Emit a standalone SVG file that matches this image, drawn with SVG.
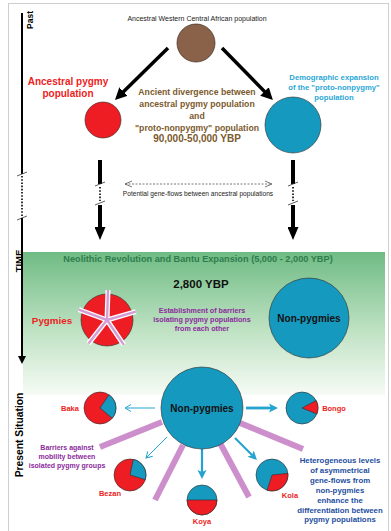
<svg xmlns="http://www.w3.org/2000/svg" width="391" height="531" viewBox="0 0 391 531">
<style>
text{font-family:"Liberation Sans",Arial,sans-serif;}
.b{font-weight:bold;}
.c{text-anchor:middle;}
.red{fill:#ee1d23;}
.blu{fill:#1699be;}
.pie{stroke:#2b2b2b;stroke-width:0.6;}
.thick{stroke:#000;stroke-width:4;fill:none;}
.dot{stroke:#000;stroke-width:1.6;stroke-dasharray:1.6,1.6;fill:none;}
.slash{stroke:#333;stroke-width:0.8;}
.bar{stroke:#cc8fcc;stroke-width:6;}
.cyan{stroke:#27a3cf;fill:none;}
</style>
<defs>
<linearGradient id="g" x1="0" y1="0" x2="0" y2="1">
<stop offset="0" stop-color="#6fbb84"/>
<stop offset="0.55" stop-color="#bfe2c3"/>
<stop offset="1" stop-color="#f6fbf5"/>
</linearGradient>
<marker id="ahD" markerUnits="userSpaceOnUse" markerWidth="12" markerHeight="12" refX="3" refY="6" orient="auto"><path d="M0,0 L12,6 L0,12 z" fill="#000"/></marker>
<marker id="ahV" markerUnits="userSpaceOnUse" markerWidth="13" markerHeight="11" refX="3" refY="5.5" orient="auto"><path d="M0,0 L13,5.5 L0,11 z" fill="#000"/></marker>
<marker id="ahT" markerUnits="userSpaceOnUse" markerWidth="8" markerHeight="8" refX="2" refY="4" orient="auto"><path d="M0,0 L8,4 L0,8 z" fill="#000"/></marker>
<marker id="ahC" markerUnits="userSpaceOnUse" markerWidth="10" markerHeight="10" refX="2" refY="5" orient="auto"><path d="M0,0.5 L9,5 L0,9.5 L2,5 z" fill="#27a3cf"/></marker>
<marker id="ahO" markerUnits="userSpaceOnUse" markerWidth="8" markerHeight="8" refX="7" refY="4" orient="auto"><path d="M1,0.5 L7,4 L1,7.5" fill="none" stroke="#27a3cf" stroke-width="1"/></marker>
<marker id="ahG" markerUnits="userSpaceOnUse" markerWidth="8" markerHeight="8" refX="7" refY="4" orient="auto-start-reverse"><path d="M0,1 L7,4 L0,7" fill="none" stroke="#555" stroke-width="0.8"/></marker>
</defs>

<rect x="8.5" y="3.5" width="380" height="530" fill="#fff" stroke="#cfcfcf" stroke-width="1"/>
<rect x="23" y="252" width="362" height="143" fill="url(#g)"/>

<g id="timeline">
<line x1="22" y1="13" x2="22" y2="174" stroke="#000" stroke-width="2"/>
<line x1="17" y1="176" x2="27" y2="172" class="slash"/>
<line x1="22" y1="176" x2="22" y2="217" class="dot" stroke-width="1.2"/>
<line x1="17" y1="220" x2="27" y2="216" class="slash"/>
<line x1="22" y1="218" x2="22" y2="358" stroke="#000" stroke-width="2" marker-end="url(#ahT)"/>
<text class="b c" font-size="8.5" transform="translate(32.5,20) rotate(-90)">Past</text>
<text class="b c" font-size="9.5" transform="translate(21.5,261) rotate(-90)">TIME</text>
<text class="b c" font-size="10.3" transform="translate(22.5,435) rotate(-90)">Present Situation</text>
</g>

<g id="connectors">
<line x1="168" y1="48" x2="121.4" y2="93.7" stroke="#000" stroke-width="3.5" marker-end="url(#ahD)"/>
<line x1="222" y1="48" x2="266.6" y2="93.6" stroke="#000" stroke-width="3.5" marker-end="url(#ahD)"/>
<line x1="100" y1="160" x2="100" y2="184" class="thick"/>
<line x1="95" y1="186" x2="105" y2="182" class="slash"/>
<line x1="100" y1="187" x2="100" y2="201" class="dot"/>
<line x1="95" y1="205" x2="105" y2="201" class="slash"/>
<line x1="100" y1="205" x2="100" y2="230" class="thick" marker-end="url(#ahV)"/>
<line x1="293" y1="160" x2="293" y2="184" class="thick"/>
<line x1="288" y1="186" x2="298" y2="182" class="slash"/>
<line x1="293" y1="187" x2="293" y2="201" class="dot"/>
<line x1="288" y1="205" x2="298" y2="201" class="slash"/>
<line x1="293" y1="205" x2="293" y2="230" class="thick" marker-end="url(#ahV)"/>
<line x1="125" y1="184" x2="272" y2="184" stroke="#555" stroke-width="0.8" stroke-dasharray="2,1.5" marker-start="url(#ahG)" marker-end="url(#ahG)"/>
<line x1="155" y1="408" x2="125" y2="408" class="cyan" stroke-width="1" marker-end="url(#ahO)"/>
<line x1="167" y1="437" x2="146" y2="458" class="cyan" stroke-width="1" marker-end="url(#ahO)"/>
<line x1="246" y1="408" x2="271" y2="408" class="cyan" stroke-width="2.8" marker-end="url(#ahC)"/>
<line x1="202" y1="449" x2="202" y2="472" class="cyan" stroke-width="2.2" marker-end="url(#ahC)"/>
<line x1="235" y1="438" x2="252" y2="455" class="cyan" stroke-width="2.2" marker-end="url(#ahC)"/>
</g>

<g id="barriers">
<line x1="100" y1="447" x2="162" y2="422" class="bar"/>
<line x1="183" y1="445" x2="155" y2="500" class="bar"/>
<line x1="220" y1="443" x2="249" y2="497" class="bar"/>
<line x1="240" y1="423" x2="303" y2="449" class="bar"/>
</g>

<g id="ancestral">
<circle cx="196" cy="43" r="19" fill="#8a6249" stroke="#3a2a20" stroke-width="0.7"/>
<text class="c" x="197" y="20.5" font-size="7" fill="#222">Ancestral Western Central African population</text>
</g>

<g id="ancestral-pygmy">
<circle cx="103" cy="120" r="18" class="red pie"/>
<text class="b c red" font-size="10" x="68" y="85">Ancestral pygmy</text>
<text class="b c red" font-size="10" x="68" y="97">population</text>
</g>

<g id="proto-nonpygmy">
<circle cx="293" cy="125" r="28" class="blu pie"/>
<text class="b c" font-size="7.7" fill="#2aa7d6" x="334" y="80">Demographic expansion</text>
<text class="b c" font-size="7.7" fill="#2aa7d6" x="334" y="90">of the "proto-nonpygmy"</text>
<text class="b c" font-size="7.7" fill="#2aa7d6" x="334" y="100">population</text>
</g>

<g id="divergence" fill="#7b5a2d">
<text class="b c" font-size="8.7" x="197" y="95">Ancient divergence between</text>
<text class="b c" font-size="8.7" x="197" y="107">ancestral pygmy population</text>
<text class="b c" font-size="8.7" x="197" y="119">and</text>
<text class="b c" font-size="8.7" x="197" y="131">"proto-nonpygmy" population</text>
<text class="b c" font-size="10" x="197" y="142">90,000-50,000 YBP</text>
</g>

<g id="gene-flow-label">
<text class="c" font-size="6.6" fill="#222" x="198" y="196">Potential gene-flows between ancestral populations</text>
</g>

<g id="neolithic">
<text class="b c" font-size="9.2" fill="#2f7d4b" x="198" y="262">Neolithic Revolution and Bantu Expansion (5,000 - 2,000 YBP)</text>
<text class="b c" font-size="11.5" fill="#111" x="201" y="288">2,800 YBP</text>
<text class="b c" font-size="7.2" fill="#8b2b9c" x="202" y="313">Establishment of barriers</text>
<text class="b c" font-size="7.2" fill="#8b2b9c" x="202" y="322">isolating pygmy populations</text>
<text class="b c" font-size="7.2" fill="#8b2b9c" x="202" y="331">from each other</text>
</g>

<g id="pygmies">
<circle cx="107" cy="320" r="26" class="red pie"/>
<g stroke="#fff" stroke-width="5">
<line x1="107" y1="320" x2="108" y2="290"/>
<line x1="107" y1="320" x2="135.8" y2="311.7"/>
<line x1="107" y1="320" x2="123.8" y2="344.9"/>
<line x1="107" y1="320" x2="88.5" y2="343.6"/>
<line x1="107" y1="320" x2="78.8" y2="309.7"/>
</g>
<g stroke="#d49cd4" stroke-width="2.4">
<line x1="107" y1="320" x2="108" y2="290"/>
<line x1="107" y1="320" x2="135.8" y2="311.7"/>
<line x1="107" y1="320" x2="123.8" y2="344.9"/>
<line x1="107" y1="320" x2="88.5" y2="343.6"/>
<line x1="107" y1="320" x2="78.8" y2="309.7"/>
</g>
<text class="b c red" font-size="9.8" x="52" y="323.5">Pygmies</text>
</g>

<g id="nonpygmies-neolithic">
<circle cx="309" cy="318" r="40" class="blu pie"/>
<text class="b c" font-size="10" fill="#111" x="309" y="321.5">Non-pygmies</text>
</g>

<g id="nonpygmies-present">
<circle cx="202" cy="408" r="41" class="blu pie"/>
<text class="b c" font-size="10" fill="#111" x="202" y="411.5">Non-pygmies</text>
</g>

<g id="baka">
<circle cx="100" cy="408" r="16" class="red pie"/>
<path d="M100,408 L108.95,394.74 A16,16 0 0 1 112.26,418.28 Z" class="blu pie"/>
<text class="b c red" font-size="7.5" x="70" y="410.5">Baka</text>
</g>

<g id="bongo">
<circle cx="302" cy="408" r="16" class="blu pie"/>
<path d="M302,408 L316.13,400.49 A16,16 0 0 1 316.83,413.99 Z" class="red pie"/>
<text class="b c red" font-size="7.5" x="334" y="410.5">Bongo</text>
</g>

<g id="bezan">
<circle cx="130" cy="475" r="16" class="red pie"/>
<path d="M130,475 L133.33,459.35 A16,16 0 0 1 145.30,479.68 Z" class="blu pie"/>
<text class="b c red" font-size="7.5" x="110" y="496">Bezan</text>
</g>

<g id="koya">
<circle cx="202" cy="500" r="15" class="blu pie"/>
<path d="M187,500 A15,15 0 0 0 217,500 Z" class="red pie"/>
<text class="b c red" font-size="7.5" x="202" y="524">Koya</text>
</g>

<g id="kola">
<circle cx="272" cy="475" r="16" class="blu pie"/>
<path d="M272,475 L287.91,473.33 A16,16 0 0 1 267.06,490.22 Z" class="red pie"/>
<text class="b c red" font-size="7.5" x="290" y="498">Kola</text>
</g>

<g id="barriers-label" fill="#8b2b9c">
<text class="b c" font-size="7" x="67" y="450">Barriers against</text>
<text class="b c" font-size="7" x="67" y="459">mobility between</text>
<text class="b c" font-size="7" x="67" y="468">isolated pygmy groups</text>
</g>

<g id="geneflow-label" fill="#1d4e9e">
<text class="b c" font-size="7.8" x="340" y="463">Heterogeneous levels</text>
<text class="b c" font-size="7.8" x="340" y="473">of asymmetrical</text>
<text class="b c" font-size="7.8" x="340" y="483">gene-flows from</text>
<text class="b c" font-size="7.8" x="340" y="493">non-pygmies</text>
<text class="b c" font-size="7.8" x="340" y="503">enhance the</text>
<text class="b c" font-size="7.8" x="340" y="512.5">differentiation between</text>
<text class="b c" font-size="7.8" x="340" y="522">pygmy populations</text>
</g>
</svg>
